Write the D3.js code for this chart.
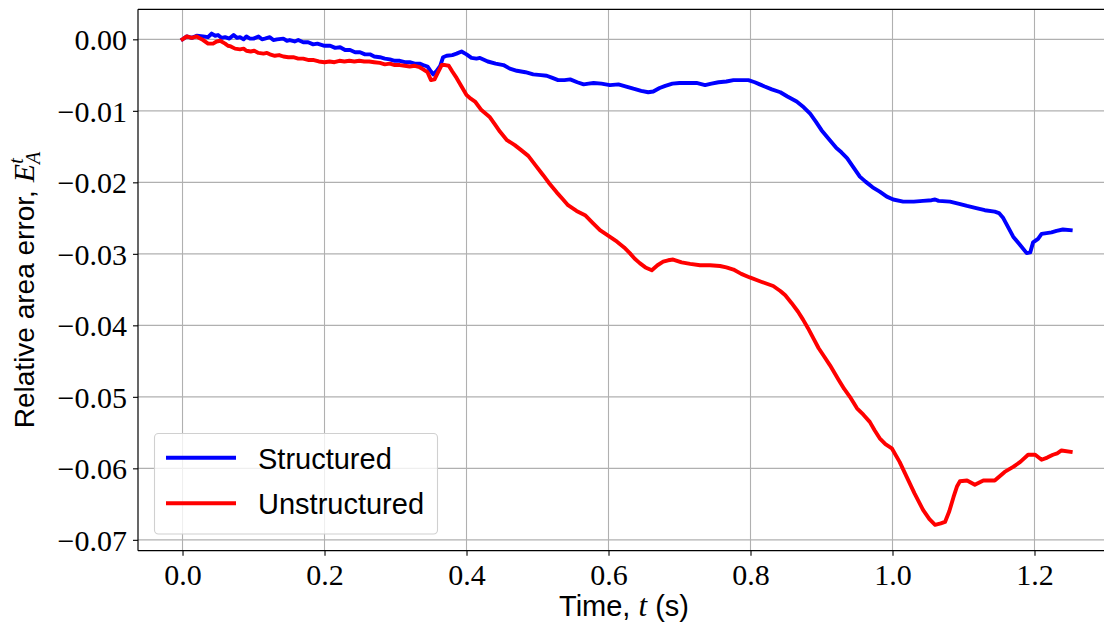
<!DOCTYPE html>
<html>
<head>
<meta charset="utf-8">
<script src="https://cdn.jsdelivr.net/npm/d3@7"></script>
<style>
  html, body { margin: 0; padding: 0; background: #fff; }
  svg { display: block; }
</style>
</head>
<body>
<svg id="chart" width="1104" height="628"></svg>
<script>
// Relative area error over time for structured vs unstructured meshes
const seriesNames = ["Structured", "Unstructured"];
const seriesColors = ["#0000ff", "#ff0000"];

const structuredT = [0.000,0.006,0.013,0.020,0.029,0.036,0.041,0.046,0.050,0.055,0.060,0.066,0.072,0.077,0.081,0.086,0.090,0.095,0.100,0.107,0.112,0.116,0.123,0.128,0.133,0.142,0.147,0.151,0.158,0.163,0.170,0.177,0.184,0.190,0.200,0.208,0.215,0.222,0.229,0.236,0.243,0.250,0.257,0.264,0.270,0.278,0.285,0.292,0.299,0.306,0.313,0.320,0.327,0.334,0.339,0.345,0.350,0.353,0.358,0.363,0.367,0.372,0.380,0.386,0.393,0.400,0.407,0.414,0.419,0.430,0.441,0.452,0.461,0.471,0.483,0.494,0.505,0.513,0.521,0.529,0.538,0.546,0.556,0.565,0.572,0.579,0.590,0.602,0.614,0.625,0.635,0.646,0.656,0.663,0.672,0.680,0.690,0.700,0.712,0.724,0.736,0.745,0.755,0.766,0.776,0.788,0.797,0.806,0.813,0.820,0.830,0.842,0.852,0.865,0.875,0.884,0.892,0.900,0.910,0.921,0.928,0.936,0.945,0.954,0.962,0.972,0.982,0.992,1.001,1.015,1.030,1.043,1.055,1.060,1.065,1.081,1.094,1.105,1.118,1.130,1.144,1.150,1.156,1.163,1.170,1.180,1.189,1.194,1.198,1.205,1.210,1.217,1.224,1.231,1.240,1.251];
const structuredE = [0.0000,0.0004,0.0002,0.0005,0.0004,0.0003,0.0008,0.0005,0.0006,0.0002,0.0003,0.0001,0.0006,0.0002,0.0003,0.0000,0.0004,0.0001,0.0001,0.0004,0.0000,0.0001,0.0003,-0.0001,0.0000,0.0001,-0.0002,-0.0001,-0.0003,-0.0001,-0.0004,-0.0004,-0.0007,-0.0006,-0.0009,-0.0009,-0.0012,-0.0011,-0.0015,-0.0015,-0.0018,-0.0018,-0.0021,-0.0021,-0.0024,-0.0025,-0.0027,-0.0028,-0.0030,-0.0030,-0.0032,-0.0032,-0.0034,-0.0034,-0.0036,-0.0038,-0.0045,-0.0049,-0.0044,-0.0037,-0.0025,-0.0023,-0.0022,-0.0020,-0.0017,-0.0021,-0.0026,-0.0027,-0.0026,-0.0031,-0.0034,-0.0036,-0.0041,-0.0044,-0.0046,-0.0049,-0.0050,-0.0051,-0.0054,-0.0057,-0.0057,-0.0056,-0.0060,-0.0063,-0.0062,-0.0061,-0.0062,-0.0064,-0.0063,-0.0066,-0.0069,-0.0072,-0.0074,-0.0073,-0.0068,-0.0065,-0.0062,-0.0061,-0.0061,-0.0061,-0.0064,-0.0062,-0.0060,-0.0059,-0.0057,-0.0057,-0.0057,-0.0060,-0.0063,-0.0066,-0.0070,-0.0074,-0.0080,-0.0087,-0.0095,-0.0104,-0.0115,-0.0127,-0.0139,-0.0152,-0.0158,-0.0166,-0.0179,-0.0192,-0.0199,-0.0207,-0.0213,-0.0220,-0.0224,-0.0227,-0.0227,-0.0226,-0.0225,-0.0224,-0.0226,-0.0227,-0.0230,-0.0233,-0.0236,-0.0239,-0.0241,-0.0243,-0.0250,-0.0263,-0.0276,-0.0288,-0.0299,-0.0298,-0.0284,-0.0279,-0.0272,-0.0271,-0.0270,-0.0268,-0.0266,-0.0267];

const unstructuredT = [0.000,0.006,0.013,0.020,0.025,0.029,0.036,0.043,0.048,0.053,0.060,0.064,0.068,0.074,0.081,0.086,0.090,0.096,0.101,0.107,0.114,0.119,0.123,0.130,0.136,0.142,0.149,0.156,0.163,0.170,0.178,0.185,0.192,0.200,0.207,0.214,0.221,0.228,0.235,0.242,0.249,0.256,0.263,0.270,0.278,0.285,0.292,0.299,0.306,0.313,0.320,0.327,0.334,0.339,0.345,0.350,0.355,0.360,0.365,0.370,0.375,0.380,0.386,0.393,0.400,0.406,0.412,0.421,0.433,0.440,0.447,0.457,0.468,0.477,0.487,0.497,0.508,0.517,0.527,0.536,0.543,0.555,0.567,0.578,0.588,0.600,0.612,0.622,0.630,0.637,0.644,0.652,0.661,0.669,0.677,0.684,0.691,0.703,0.715,0.729,0.743,0.757,0.766,0.776,0.787,0.799,0.815,0.832,0.842,0.849,0.858,0.867,0.874,0.881,0.889,0.896,0.904,0.912,0.924,0.932,0.940,0.950,0.959,0.968,0.975,0.982,0.990,0.999,1.010,1.020,1.031,1.043,1.052,1.060,1.068,1.074,1.080,1.086,1.091,1.095,1.105,1.116,1.128,1.144,1.151,1.158,1.170,1.180,1.191,1.201,1.210,1.218,1.226,1.232,1.238,1.251];
const unstructuredE = [0.0000,0.0004,0.0002,0.0004,0.0001,-0.0001,-0.0006,-0.0006,-0.0003,-0.0002,-0.0006,-0.0009,-0.0010,-0.0013,-0.0014,-0.0013,-0.0016,-0.0017,-0.0016,-0.0019,-0.0020,-0.0019,-0.0021,-0.0023,-0.0022,-0.0024,-0.0025,-0.0025,-0.0027,-0.0027,-0.0029,-0.0029,-0.0031,-0.0032,-0.0031,-0.0032,-0.0030,-0.0031,-0.0030,-0.0031,-0.0030,-0.0031,-0.0031,-0.0032,-0.0033,-0.0035,-0.0034,-0.0036,-0.0036,-0.0037,-0.0038,-0.0037,-0.0039,-0.0042,-0.0046,-0.0057,-0.0056,-0.0046,-0.0036,-0.0036,-0.0037,-0.0045,-0.0054,-0.0066,-0.0078,-0.0083,-0.0087,-0.0099,-0.0109,-0.0119,-0.0129,-0.0141,-0.0148,-0.0155,-0.0163,-0.0176,-0.0190,-0.0202,-0.0214,-0.0224,-0.0232,-0.0240,-0.0246,-0.0257,-0.0267,-0.0275,-0.0283,-0.0291,-0.0299,-0.0307,-0.0313,-0.0319,-0.0323,-0.0316,-0.0311,-0.0309,-0.0308,-0.0312,-0.0314,-0.0316,-0.0316,-0.0317,-0.0319,-0.0322,-0.0328,-0.0333,-0.0339,-0.0345,-0.0352,-0.0358,-0.0369,-0.0381,-0.0392,-0.0404,-0.0419,-0.0432,-0.0444,-0.0456,-0.0476,-0.0489,-0.0500,-0.0516,-0.0525,-0.0535,-0.0547,-0.0558,-0.0566,-0.0572,-0.0591,-0.0612,-0.0635,-0.0658,-0.0671,-0.0679,-0.0677,-0.0675,-0.0660,-0.0640,-0.0625,-0.0618,-0.0617,-0.0623,-0.0617,-0.0617,-0.0611,-0.0605,-0.0598,-0.0591,-0.0581,-0.0581,-0.0588,-0.0585,-0.0581,-0.0579,-0.0575,-0.0577];

const xTicks = [0.0, 0.2, 0.4, 0.6, 0.8, 1.0, 1.2];
const yTicks = [0.00, -0.01, -0.02, -0.03, -0.04, -0.05, -0.06, -0.07];

const svg = d3.select("#chart");

// Plot frame (right edge runs past the canvas)
const plot = { left: 138, right: 1116, top: 9.3, bottom: 550.7 };

const x = d3.scaleLinear().domain([-0.0627, 1.3148]).range([plot.left, plot.right]);
const y = d3.scaleLinear().domain([-0.07152, 0.0042]).range([plot.bottom, plot.top]);

svg.append("defs").append("clipPath").attr("id", "plotClip")
  .append("rect")
  .attr("x", plot.left).attr("y", plot.top)
  .attr("width", plot.right - plot.left).attr("height", plot.bottom - plot.top);

// Grid
const grid = svg.append("g");
grid.selectAll("line.gx").data(xTicks).join("line")
  .attr("x1", d => x(d)).attr("x2", d => x(d))
  .attr("y1", plot.top).attr("y2", plot.bottom)
  .attr("stroke", "#b0b0b0").attr("stroke-width", 1.1);
grid.selectAll("line.gy").data(yTicks).join("line")
  .attr("y1", d => y(d)).attr("y2", d => y(d))
  .attr("x1", plot.left).attr("x2", plot.right)
  .attr("stroke", "#b0b0b0").attr("stroke-width", 1.1);

// Axes
const fmtX = d3.format(".1f");
const fmtY = v => (v < 0 ? "\u2212" : "") + d3.format(".2f")(Math.abs(v));

const xAxis = svg.append("g")
  .attr("transform", `translate(0,${plot.bottom})`)
  .call(d3.axisBottom(x).tickValues(xTicks).tickFormat(fmtX).tickSize(5).tickPadding(8));
const yAxis = svg.append("g")
  .attr("transform", `translate(${plot.left},0)`)
  .call(d3.axisLeft(y).tickValues(yTicks).tickFormat(fmtY).tickSize(5).tickPadding(6));

[xAxis, yAxis].forEach(a => {
  a.select(".domain").remove();
  a.selectAll(".tick line").attr("stroke", "#000").attr("stroke-width", 1.1);
  a.selectAll(".tick text")
    .attr("fill", "#000")
    .style("font-family", "'Liberation Serif', 'DejaVu Serif', serif")
    .style("font-size", "30px");
});
xAxis.selectAll(".tick text").attr("dy", "0.72em");
yAxis.selectAll(".tick text").attr("dy", "0.34em");

// Series lines
const line = d3.line().x(d => x(d[0])).y(d => y(d[1]));
const seriesData = [
  d3.zip(structuredT, structuredE),
  d3.zip(unstructuredT, unstructuredE)
];
const lines = svg.append("g").attr("clip-path", "url(#plotClip)");
seriesData.forEach((pts, i) => {
  lines.append("path")
    .datum(pts)
    .attr("d", line)
    .attr("fill", "none")
    .attr("stroke", seriesColors[i])
    .attr("stroke-width", 3.9)
    .attr("stroke-linejoin", "round")
    .attr("stroke-linecap", "square");
});

// Spines
const spines = svg.append("g").attr("stroke", "#000").attr("stroke-width", 1.2);
spines.append("line").attr("x1", plot.left).attr("x2", plot.left).attr("y1", plot.top).attr("y2", plot.bottom);
spines.append("line").attr("x1", plot.left).attr("x2", plot.right).attr("y1", plot.top).attr("y2", plot.top);
spines.append("line").attr("x1", plot.left).attr("x2", plot.right).attr("y1", plot.bottom).attr("y2", plot.bottom);

// Axis labels
const sans = "'Liberation Sans', 'DejaVu Sans', sans-serif";
const serif = "'Liberation Serif', 'DejaVu Serif', serif";

const xl = svg.append("text")
  .attr("x", 624).attr("y", 616)
  .attr("text-anchor", "middle")
  .style("font-family", sans).style("font-size", "29px").attr("fill", "#000");
xl.append("tspan").text("Time, ");
xl.append("tspan").style("font-family", serif).style("font-style", "italic").style("font-size", "31px").text("t");
xl.append("tspan").text(" (s)");

const yl = svg.append("text")
  .attr("transform", "translate(34,290) rotate(-90)")
  .attr("text-anchor", "middle")
  .style("font-family", sans).style("font-size", "28px").attr("fill", "#000");
yl.append("tspan").text("Relative area error, ");
yl.append("tspan").style("font-family", serif).style("font-style", "italic").style("font-size", "30px").text("E");
yl.append("tspan").style("font-family", serif).style("font-style", "italic").style("font-size", "20px")
  .attr("dy", 6).text("A");
yl.append("tspan").style("font-family", serif).style("font-style", "italic").style("font-size", "20px")
  .attr("dx", -12).attr("dy", -17).text("t");

// Legend
const legend = svg.append("g");
legend.append("rect")
  .attr("x", 154.5).attr("y", 433.5).attr("width", 283).attr("height", 100.5)
  .attr("rx", 4).attr("ry", 4)
  .attr("fill", "#fff").attr("fill-opacity", 0.8)
  .attr("stroke", "#d0d0d0").attr("stroke-width", 1.1);
const legendRows = [457.7, 503.3];
seriesNames.forEach((name, i) => {
  legend.append("line")
    .attr("x1", 166).attr("x2", 236)
    .attr("y1", legendRows[i]).attr("y2", legendRows[i])
    .attr("stroke", seriesColors[i]).attr("stroke-width", 3.9);
  legend.append("text")
    .attr("x", 258).attr("y", legendRows[i] + 11)
    .style("font-family", sans).style("font-size", "29px").attr("fill", "#000")
    .text(name);
});
</script>
</body>
</html>
